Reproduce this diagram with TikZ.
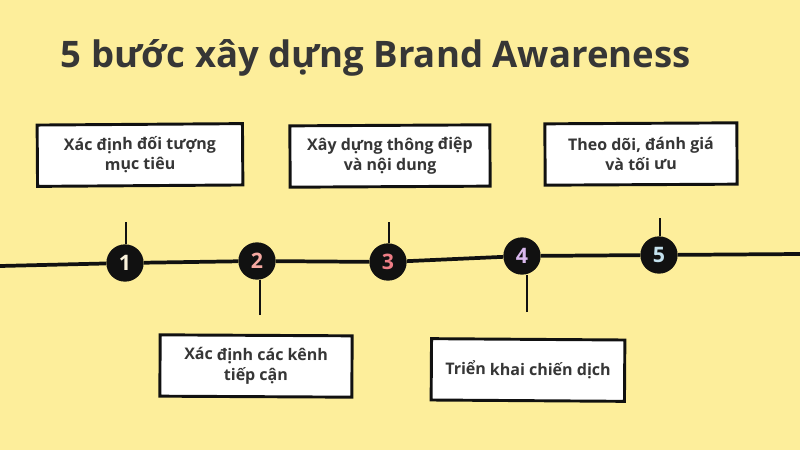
\documentclass[tikz,border=0pt]{standalone}
\usepackage{fontspec}
\usepackage{xcolor}
\usepackage{tikz}
\setmainfont{Open Sans}
\definecolor{background}{HTML}{FDEE9B}
\definecolor{ink}{HTML}{111111}
\definecolor{textgrey}{HTML}{363636}
\definecolor{cream}{HTML}{FBF3DC}
\definecolor{pink}{HTML}{F6A9A2}
\definecolor{rose}{HTML}{EE7E86}
\definecolor{lilac}{HTML}{D9B8EE}
\definecolor{sky}{HTML}{C4E2EE}

\tikzset{
    stepcard/.style={draw=ink, fill=white, line width=2.2pt, minimum height=46pt, align=center, font=\bfseries\fontsize{12}{15}\selectfont, text=textgrey},
    stepdot/.style={circle, fill=ink, minimum size=28pt, inner sep=0pt, font=\bfseries\fontsize{16}{16}\selectfont},
    tick/.style={ink, line width=2.2pt}
}

\begin{document}
\begin{tikzpicture}[x=0.75pt, y=-0.75pt]
% Background and frame
\fill[background] (0,0) rectangle (800,450);
\useasboundingbox (0,0) rectangle (800,450);

% Title
\node[anchor=west, font=\bfseries\fontsize{27.4}{32}\selectfont, text=textgrey] (title) at (56,58) {5 bước xây dựng Brand Awareness};

% Timeline with numbered dots
\coordinate (start) at (0,266);
\coordinate (end) at (800,254);
\node[stepdot, text=cream] (d1) at (125,263) {1};
\node[stepdot, text=pink] (d2) at (257,261) {2};
\node[stepdot, text=rose] (d3) at (388,262) {3};
\node[stepdot, text=lilac] (d4) at (522,256) {4};
\node[stepdot, text=sky] (d5) at (659,255) {5};
\draw[tick, line width=2.8pt] (start) -- (d1) -- (d2) -- (d3) -- (d4) -- (d5) -- (end);

% Ticks above and below
\coordinate (t1) at (126,222);
\coordinate (t2) at (260,315);
\coordinate (t3) at (389,222);
\coordinate (t4) at (527,312);
\coordinate (t5) at (660,218);
\draw[tick] (t1) -- (d1.north -| t1);
\draw[tick] (t2) -- (d2.south -| t2);
\draw[tick] (t3) -- (d3.north -| t3);
\draw[tick] (t4) -- (d4.south -| t4);
\draw[tick] (t5) -- (d5.north -| t5);

% Step cards
\node[stepcard, minimum width=154pt, rotate=0.4] (c1) at (140,155) {Xác định đối tượng\\mục tiêu};
\node[stepcard, minimum width=144pt, rotate=-0.3] (c2) at (256,366) {Xác định các kênh\\tiếp cận};
\node[stepcard, minimum width=150pt, rotate=0.3] (c3) at (390,156) {Xây dựng thông điệp\\và nội dung};
\node[stepcard, minimum width=145pt, rotate=-0.4] (c4) at (528,370) {Triển khai chiến dịch};
\node[stepcard, minimum width=144pt, rotate=0.3] (c5) at (641,154) {Theo dõi, đánh giá\\và tối ưu};
\end{tikzpicture}
\end{document}
